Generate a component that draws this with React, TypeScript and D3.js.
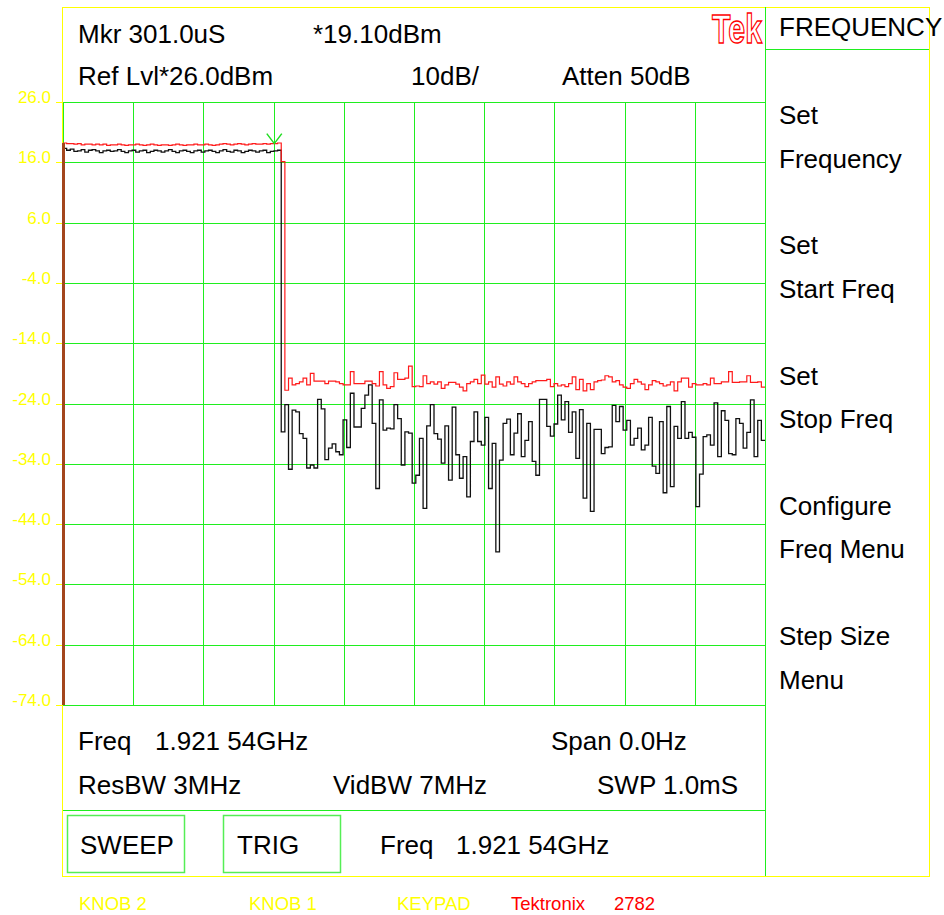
import React from 'react'
import * as d3 from 'd3'

// Tektronix 2782 screen dump: zero-span trace (1.921 54GHz), max hold in red,
// current sweep in black. Values in dBm, one per trace bin across 1.0 ms.

const yTicks = [26, 16, 6, -4, -14, -24, -34, -44, -54, -64, -74]
const xTicks = [0, 100, 200, 300, 400, 500, 600, 700, 800, 900, 1000]

const redTop = [
  19.2, 19.1, 19.1, 19.0, 19.1, 18.9, 19.0, 19.0, 18.9, 19.0, 18.9, 19.0, 18.8, 18.9, 18.9, 19.0, 18.9, 18.8, 18.9, 18.9,
  19.0, 18.9, 18.8, 18.9, 19.0, 18.9, 18.8, 18.9, 18.9, 18.8, 18.9, 19.0, 18.9, 18.8, 18.9, 18.9, 19.0, 18.9, 18.9, 19.0,
  18.9, 18.8, 18.9, 19.0, 19.1, 19.0, 18.9, 19.0, 19.1, 19.0, 18.9, 19.0, 19.1, 19.0, 19.0, 19.1, 19.0, 19.1, 19.1, 19.2,
]
const redFloor = [
  16.1,
  -21.8, -19.8, -20.9, -20.7, -20.4, -19.8, -20.9, -19.0, -20.3, -20.3,
  -20.3, -20.7, -20.3, -20.3, -20.4, -20.7, -20.9, -20.9, -18.7, -20.7,
  -20.7, -20.7, -20.3, -20.3, -20.7, -21.1, -18.7, -20.9, -21.5, -21.2,
  -18.9, -20.0, -20.0, -19.8, -17.8, -21.2, -21.1, -21.2, -19.4, -20.7,
  -20.4, -20.8, -20.4, -21.5, -20.9, -20.5,
  -20.5, -20.8, -21.3, -21.9, -20.7, -20.4, -20.0, -20.7, -19.3, -20.8,
  -20.4, -21.3, -19.6, -20.8, -21.1, -20.4, -20.8, -19.6, -20.4, -20.7,
  -21.2, -20.7, -20.4, -20.2, -20.2, -20.2, -20.0, -21.2, -20.7, -21.1,
  -20.9, -21.2, -20.7, -19.6, -21.7, -20.0, -21.9, -20.7, -21.7, -20.4,
  -20.2, -20.1, -19.4,
  -19.6, -20.4, -20.2, -20.9, -21.3, -21.5, -20.7, -20.0, -20.4,
  -20.8, -21.7, -20.9, -20.2, -20.4, -20.7, -21.1, -20.9,
  -20.4, -21.9, -20.4, -19.8, -19.8, -21.3, -20.7, -20.9, -20.9, -20.7,
  -20.9, -19.8, -20.7, -20.7, -20.4, -20.4, -18.7, -20.5, -20.5, -20.4,
  -20.4, -19.4, -20.5, -20.5, -20.4, -21.3,
]

const blackTop = [
  18.3, 18.0, 18.2, 17.8, 17.9, 18.1, 17.7, 18.0, 18.1, 17.9, 17.6, 17.9, 18.0, 17.8, 17.9, 18.1, 17.8, 17.6, 17.9, 18.0,
  17.7, 17.9, 18.0, 17.6, 17.8, 18.0, 17.9, 17.7, 17.9, 18.1, 17.8, 17.6, 17.9, 18.0, 17.8, 17.6, 17.9, 18.0, 17.7, 17.9,
  18.0, 17.8, 17.6, 17.9, 18.1, 17.8, 17.7, 18.0, 17.9, 17.6, 17.8, 18.0, 17.9, 17.7, 17.9, 18.0, 17.6, 17.8, 17.9, 18.0,
]
const blackFloor = [
  -28.7, -24.2, -34.9, -25.1, -25.4, -29.0, -29.8, -34.7, -34.2, -34.7,
  -23.3, -24.9, -33.3, -31.4, -30.7, -32.0, -32.5, -26.7, -31.3, -22.3,
  -27.9, -27.9, -24.8, -22.6, -20.9, -27.3, -38.1, -23.4, -28.4, -28.1,
  -28.2, -24.2, -26.5, -34.2, -28.7, -28.9, -37.2, -35.9, -29.8, -41.4,
  -27.7, -24.2, -29.0, -29.9, -33.9, -27.7, -36.7, -24.6,
  -32.5, -36.4, -32.8, -39.5, -30.3, -25.4, -30.3, -30.9, -26.3, -38.1,
  -30.6, -48.6, -33.4, -27.3, -26.6, -32.5, -28.9, -25.7, -32.8, -30.1,
  -27.0, -33.6, -35.9, -23.3, -23.3, -27.8, -29.4, -27.4, -22.6, -26.7,
  -23.7, -28.8, -25.4, -33.1, -25.0, -39.7, -27.3, -41.9, -28.3, -28.3,
  -32.3, -31.3, -31.2,
  -24.3, -27.0, -24.5, -28.4, -26.8, -30.9, -29.8, -28.1, -31.7, -30.9,
  -26.3, -34.4, -35.6, -27.0, -38.8, -24.5, -37.8, -27.8, -29.8, -23.7,
  -29.8, -28.8, -29.6, -41.1, -35.7, -29.5, -29.2, -30.9, -23.9, -32.8,
  -25.2, -26.8, -32.3, -32.5, -26.5, -27.3, -31.4, -28.8, -23.4, -32.8,
  -26.8, -30.1,
]

const markerTime = 301.0 // uS
const markerLevel = 19.1 // dBm

const headerRow1 = [
  { x: 78, text: 'Mkr 301.0uS' },
  { x: 313, text: '*19.10dBm' },
]
const headerRow2 = [
  { x: 78, text: 'Ref Lvl*26.0dBm' },
  { x: 411, text: '10dB/' },
  { x: 562, text: 'Atten 50dB' },
]
const menuItems = [
  ['Set', 'Frequency'],
  ['Set', 'Start Freq'],
  ['Set', 'Stop Freq'],
  ['Configure', 'Freq Menu'],
  ['Step Size', 'Menu'],
]
const knobLabels = [
  { x: 79, text: 'KNOB 2', color: '#ffff00' },
  { x: 249, text: 'KNOB 1', color: '#ffff00' },
  { x: 397, text: 'KEYPAD', color: '#ffff00' },
  { x: 511, text: 'Tektronix', color: '#ff0000' },
  { x: 614, text: '2782', color: '#ff0000' },
]

const FONT = "'Liberation Sans', Arial, Helvetica, sans-serif"
const GREEN = '#1fee1f'
const YELLOW = '#ffff00'

const W = 944
const H = 915
const left = 63
const right = 765
const top = 102
const bottom = 705

// snap to pixel centre so 1px lines stay crisp
const px = (v: number) => Math.round(v) + 0.5

export default function App() {
  const x = d3.scaleLinear().domain([0, 1000]).range([left, right])
  const y = d3.scaleLinear().domain([-74, 26]).range([bottom, top])

  const stepLine = (vals: number[]) => {
    const dt = 1000 / vals.length
    const pts: [number, number][] = vals.map((v, i) => [i * dt, v])
    pts.push([1000, vals[vals.length - 1]])
    return d3
      .line<[number, number]>()
      .x((d) => x(d[0]))
      .y((d) => y(d[1]))
      .curve(d3.curveStepAfter)(pts) as string
  }

  const red = redTop.concat(redFloor)
  const black = blackTop.concat(blackFloor)

  const txt = (tx: number, ty: number, s: string, size = 26, fill = '#000', extra: any = {}) => (
    <text key={s + tx + ty} x={tx} y={ty} fontFamily={FONT} fontSize={size} fill={fill} {...extra}>
      {s}
    </text>
  )

  const mx = x(markerTime)
  const my = y(markerLevel)

  return (
    <svg
      width={W}
      height={H}
      viewBox={`0 0 ${W} ${H}`}
      style={{ position: 'absolute', left: 0, top: 0, background: '#fff' }}
    >
      <rect x={0} y={0} width={W} height={H} fill="#fff" />

      {/* outer frame */}
      <g shapeRendering="crispEdges">
        <rect x={62.5} y={7.5} width={866.5} height={868.5} fill="none" stroke={YELLOW} strokeWidth={1} />
        <line x1={px(right)} x2={px(right)} y1={7} y2={876} stroke={GREEN} strokeWidth={1} />
        <line x1={right} x2={929} y1={49.5} y2={49.5} stroke={GREEN} strokeWidth={1} />
        <line x1={left} x2={right} y1={810.5} y2={810.5} stroke={GREEN} strokeWidth={1} />

        {/* graticule */}
        {yTicks.map((t) => (
          <line key={'h' + t} x1={left} x2={right} y1={px(y(t))} y2={px(y(t))} stroke={GREEN} strokeWidth={1} />
        ))}
        {xTicks.map((t) => (
          <line key={'v' + t} x1={px(x(t))} x2={px(x(t))} y1={top} y2={bottom} stroke={GREEN} strokeWidth={1} />
        ))}
        {yTicks.map((t) => (
          <line key={'k' + t} x1={56} x2={left} y1={px(y(t))} y2={px(y(t))} stroke={YELLOW} strokeWidth={1} />
        ))}
      </g>

      {/* level labels */}
      {yTicks.map((t) => txt(51, y(t) + 1, t.toFixed(1), 17, YELLOW, { textAnchor: 'end' }))}

      {/* traces */}
      <path d={stepLine(black)} fill="none" stroke="#111" strokeWidth={1.3} />
      <path d={stepLine(red)} fill="none" stroke="#ff1a1a" strokeWidth={1.2} />
      <line x1={x(0) + 0.5} x2={x(0) + 0.5} y1={y(-74)} y2={y(redTop[0])} stroke="#a3461c" strokeWidth={3} />

      {/* marker */}
      <path
        d={`M${mx - 7.5},${my - 10}L${mx},${my}L${mx + 7.5},${my - 10}`}
        fill="none"
        stroke="#22dd22"
        strokeWidth={1.5}
      />

      {/* header */}
      {headerRow1.map((d) => txt(d.x, 42.5, d.text))}
      {headerRow2.map((d) => txt(d.x, 85, d.text))}
      <text
        x={712}
        y={43}
        fontFamily={FONT}
        fontSize={41}
        fontWeight="bold"
        fill="#fff"
        stroke="#ff0000"
        strokeWidth={1.4}
        textLength={50}
        lengthAdjust="spacingAndGlyphs"
      >
        Tek
      </text>

      {/* right menu */}
      {txt(779, 36, 'FREQUENCY')}
      {menuItems.map((m, i) => (
        <g key={'m' + i}>
          {txt(779, 124 + i * 130.3, m[0])}
          {txt(779, 167.5 + i * 130.3, m[1])}
        </g>
      ))}

      {/* lower readouts */}
      {txt(78, 750, 'Freq')}
      {txt(155, 750, '1.921 54GHz')}
      {txt(551, 750, 'Span 0.0Hz')}
      {txt(78, 794, 'ResBW 3MHz')}
      {txt(333, 794, 'VidBW 7MHz')}
      {txt(597, 794, 'SWP 1.0mS')}

      <rect x={67.5} y={815.5} width={117} height={57} fill="none" stroke="#55ee55" strokeWidth={1.5} />
      <rect x={223.5} y={815.5} width={117} height={57} fill="none" stroke="#55ee55" strokeWidth={1.5} />
      {txt(80, 854, 'SWEEP')}
      {txt(237, 854, 'TRIG')}
      {txt(380, 854, 'Freq')}
      {txt(456, 854, '1.921 54GHz')}

      {knobLabels.map((k) => txt(k.x, 910, k.text, 18.5, k.color))}
    </svg>
  )
}
